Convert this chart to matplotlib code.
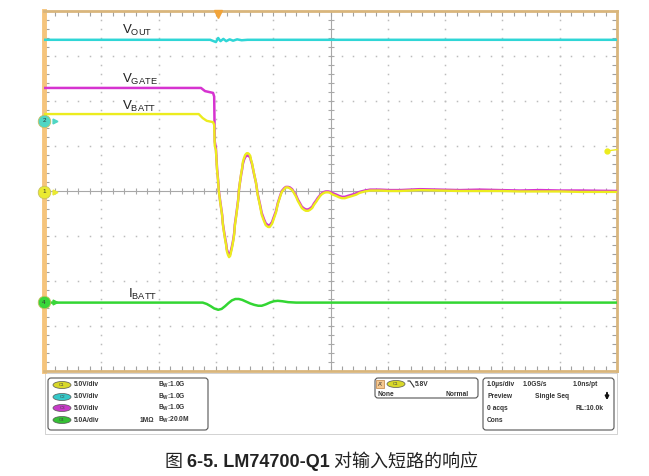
import numpy as np
import matplotlib
matplotlib.use('Agg')
import matplotlib.pyplot as plt
from matplotlib.patches import FancyBboxPatch, Rectangle, Ellipse

plt.rcParams['font.family'] = ['Liberation Sans', 'Noto Sans CJK SC', 'DejaVu Sans']
plt.rcParams['mathtext.fontset'] = 'custom'
plt.rcParams['mathtext.rm'] = 'Liberation Sans'
plt.rcParams['mathtext.bf'] = 'Liberation Sans:bold'

# trace data, time in divisions (1.0 us/div, 0..10), level in divisions (centre = 0)
t_vout = [0, 2.90, 2.96, 3.00, 3.04, 3.08, 3.13, 3.18, 3.24, 3.30, 3.37, 3.45, 3.55, 10]
v_vout = [3.36, 3.36, 3.33, 3.31, 3.40, 3.33, 3.38, 3.33, 3.37, 3.34, 3.37, 3.35, 3.36, 3.36]

# before the short
t_gate_pre = [0, 2.74, 2.81, 2.95, 2.97]
v_gate_pre = [2.29, 2.29, 2.22, 2.18, 2.10]
t_batt_pre = [0, 2.70, 2.77, 2.84, 2.95, 2.97]
v_batt_pre = [1.71, 1.71, 1.62, 1.56, 1.53, 1.47]

# ringing after the short (shared time base)
t_osc = [2.98, 3.00, 3.02, 3.04, 3.05, 3.07, 3.09, 3.11, 3.12, 3.14, 3.16, 3.18, 3.19, 3.21,
         3.23, 3.25, 3.26, 3.28, 3.30, 3.32, 3.33, 3.35, 3.37, 3.39, 3.40, 3.42, 3.44, 3.46,
         3.47, 3.49, 3.51, 3.53, 3.54, 3.56, 3.58, 3.60, 3.61, 3.63, 3.66, 3.70, 3.73, 3.77,
         3.80, 3.84, 3.87, 3.91, 3.94, 3.98, 4.01, 4.05, 4.08, 4.12, 4.15, 4.19, 4.22, 4.26,
         4.29, 4.33, 4.36, 4.40, 4.43, 4.47, 4.50, 4.54, 4.57, 4.61, 4.64, 4.68, 4.71, 4.75,
         4.78, 4.82, 4.85, 4.89, 4.92, 4.96, 4.99, 5.04, 5.10, 5.15, 5.20, 5.25, 5.30, 5.38,
         5.45, 5.51, 5.60, 5.69, 5.86, 6.04, 6.21, 6.56, 6.91, 7.26, 7.61, 7.96, 8.31, 8.66,
         9.01, 9.35, 10.0]
v_batt_osc = [1.00, 0.91, 0.47, 0.20, 0.00, -0.20, -0.38, -0.56, -0.73, -0.91, -1.07, -1.22, -1.33, -1.42,
              -1.47, -1.44, -1.38, -1.27, -1.13, -0.96, -0.78, -0.60, -0.40, -0.20, 0.00, 0.20, 0.38, 0.53,
              0.64, 0.73, 0.80, 0.83, 0.84, 0.84, 0.82, 0.78, 0.71, 0.62, 0.42, 0.18, -0.09, -0.33,
              -0.53, -0.67, -0.76, -0.80, -0.80, -0.73, -0.62, -0.47, -0.29, -0.13, -0.02, 0.04, 0.08, 0.08,
              0.06, 0.02, -0.04, -0.13, -0.22, -0.31, -0.38, -0.42, -0.44, -0.44, -0.42, -0.38, -0.31, -0.24,
              -0.18, -0.11, -0.07, -0.04, -0.03, -0.03, -0.04, -0.08, -0.11, -0.14, -0.16, -0.16, -0.14, -0.11,
              -0.08, -0.04, -0.01, 0.01, 0.01, 0.00, 0.00, 0.02, 0.01, 0.00, 0.00, 0.00, -0.01, -0.01,
              -0.01, -0.02, -0.02]
v_gate_osc = [1.10, 0.95, 0.50, 0.22, 0.02, -0.18, -0.36, -0.54, -0.71, -0.88, -1.04, -1.18, -1.29, -1.37,
              -1.42, -1.40, -1.34, -1.23, -1.10, -0.93, -0.75, -0.57, -0.38, -0.18, 0.01, 0.19, 0.36, 0.50,
              0.60, 0.69, 0.75, 0.78, 0.79, 0.79, 0.77, 0.74, 0.68, 0.60, 0.41, 0.18, -0.07, -0.30,
              -0.49, -0.63, -0.72, -0.76, -0.76, -0.69, -0.58, -0.44, -0.27, -0.11, 0.00, 0.06, 0.09, 0.09,
              0.08, 0.04, -0.02, -0.10, -0.19, -0.28, -0.35, -0.39, -0.41, -0.41, -0.39, -0.35, -0.28, -0.21,
              -0.15, -0.09, -0.05, -0.02, -0.01, -0.01, -0.02, -0.05, -0.08, -0.11, -0.13, -0.13, -0.11, -0.08,
              -0.05, -0.02, 0.01, 0.03, 0.03, 0.02, 0.02, 0.04, 0.03, 0.02, 0.03, 0.02, 0.01, 0.02,
              0.01, 0.01, 0.00]

t_ibatt = [0, 2.77, 2.84, 2.91, 2.97, 3.04, 3.10, 3.16, 3.22, 3.28, 3.34, 3.40, 3.46, 3.53,
           3.60, 3.67, 3.74, 3.80, 3.87, 3.94, 4.01, 4.08, 4.16, 4.26, 4.40, 10]
v_ibatt = [-2.48, -2.48, -2.51, -2.56, -2.61, -2.64, -2.62, -2.56, -2.49, -2.43, -2.40, -2.40, -2.42, -2.46,
           -2.50, -2.53, -2.55, -2.55, -2.52, -2.48, -2.45, -2.44, -2.45, -2.47, -2.48, -2.48]

C_CYAN = '#2fd6d6'
C_MAG = '#d633d0'
C_YEL = '#ecec1e'
C_GRN = '#33d633'
GRID = '#bcbcbc'

fig = plt.figure(figsize=(6.49, 4.76), dpi=100)

# overlay in pixel coords for info panels and caption
ov = fig.add_axes([0, 0, 1, 1])
ov.set_xlim(0, 649)
ov.set_ylim(476, 0)
ov.axis('off')

ax = fig.add_axes([44/649, 1 - 371/476, 573/649, 360/476])
ax.set_xlim(0, 10)
ax.set_ylim(-4, 4)
ax.set_xticks([])
ax.set_yticks([])
for s in ax.spines.values():
    s.set_color('#d9b67c')
    s.set_linewidth(2)
ax.spines['left'].set_color('#f5c47c')
ax.spines['left'].set_linewidth(3.5)

# dotted grid
for gx in range(1, 10):
    if gx == 5:
        continue
    yy = np.arange(-4, 4.01, 0.2)
    ax.plot(np.full_like(yy, gx), yy, ls='none', marker='s', ms=1.1, color=GRID, mew=0)
for gy in range(-3, 4):
    if gy == 0:
        continue
    xx = np.arange(0, 10.01, 0.2)
    ax.plot(xx, np.full_like(xx, gy), ls='none', marker='s', ms=1.1, color=GRID, mew=0)

# centre cross with ticks
ax.axhline(0, color='#a8a8a8', lw=0.8)
ax.axvline(5, color='#a8a8a8', lw=0.8)
xx = np.arange(0, 10.01, 0.2)
ax.plot(xx, np.zeros_like(xx), ls='none', marker='|', ms=5, mew=0.8, color='#a8a8a8')
yy = np.arange(-4, 4.01, 0.2)
ax.plot(np.full_like(yy, 5), yy, ls='none', marker='_', ms=5, mew=0.8, color='#a8a8a8')

# border ticks
ax.plot(xx, np.full_like(xx, 4), ls='none', marker='|', ms=7, mew=0.8, color='#a0a0a0')
ax.plot(xx, np.full_like(xx, -4), ls='none', marker='|', ms=7, mew=0.8, color='#a0a0a0')
ax.plot(np.zeros_like(yy), yy, ls='none', marker='_', ms=7, mew=0.8, color='#a0a0a0')
ax.plot(np.full_like(yy, 10), yy, ls='none', marker='_', ms=7, mew=0.8, color='#a0a0a0')

# traces
ax.plot(t_vout, v_vout, color=C_CYAN, lw=1.8, zorder=5)
ax.plot(t_gate_pre + t_osc, v_gate_pre + v_gate_osc, color=C_MAG, lw=1.8, zorder=5)
ax.plot(t_batt_pre + t_osc, v_batt_pre + v_batt_osc, color=C_YEL, lw=1.7, zorder=6)
ax.plot(t_ibatt, v_ibatt, color=C_GRN, lw=1.8, zorder=5)

# trace labels
lab = dict(fontsize=9.5, color='#222222', va='baseline', ha='left')
ax.text(1.36, 3.50, r'$\mathrm{V}_{\mathrm{OUT}}$', **lab)
ax.text(1.36, 2.40, r'$\mathrm{V}_{\mathrm{GATE}}$', **lab)
ax.text(1.36, 1.81, r'$\mathrm{V}_{\mathrm{BATT}}$', **lab)
ax.text(1.47, -2.38, r'$\mathrm{I}_{\mathrm{BATT}}$', **lab)

# channel ground markers
for yv, col, num in [(1.56, '#4fd6c4', '2'), (-0.02, '#eaea30', '1'), (-2.47, '#3ad63a', '4')]:
    ax.plot([0], [yv], marker='o', ms=9, color=col, mec='#c8c060', mew=0.6, clip_on=False, zorder=10)
    ax.plot([0.2], [yv], marker='>', ms=3.5, color=col, clip_on=False, zorder=10)
    ax.text(0, yv, num, fontsize=4.5, ha='center', va='center', color='#333333', zorder=11)

# trigger position / level markers
ax.plot([3.04], [3.93], marker='v', ms=6, color='#f2a43a', clip_on=False, zorder=10)
ax.plot([9.83], [0.89], marker='o', ms=3.5, color=C_YEL, clip_on=False, zorder=10)
ax.plot([9.83, 10], [0.89, 0.92], color=C_YEL, lw=1, clip_on=False, zorder=10)

# ---- info panels ----
ov.add_patch(Rectangle((45, 373), 572, 61, fill=False, ec='#c0c0c0', lw=0.5))
for (x0, y0, w, h) in [(48, 378, 160, 52), (375, 378, 103, 20), (483, 378, 131, 52)]:
    ov.add_patch(FancyBboxPatch((x0, y0), w, h, boxstyle='round,pad=0,rounding_size=3',
                                fill=False, ec='#555555', lw=0.8))

small = dict(fontsize=4.8, fontweight='bold', color='#333333', va='center', ha='left')
rows = [385, 397, 408, 420]
badges = ['#d8d82a', '#35c8c8', '#c83ac8', '#35c035']
scales = ['5.0V/div', '5.0V/div', '5.0V/div', '5.0A/div']
bws = ['1.0G', '1.0G', '1.0G', '20.0M']
for i, yv in enumerate(rows):
    ov.add_patch(Ellipse((62, yv), 18, 7, fc=badges[i], ec='#555555', lw=0.5))
    ov.text(62, yv, 'C%d' % (i + 1), fontsize=3.2, ha='center', va='center', color='#444444')
    ov.text(74, yv, scales[i], **small)
    ov.text(158, yv, r'$\mathbf{B}_{\mathbf{W}}$:' + bws[i], **small)
ov.text(140, rows[3], '1MΩ', **small)

ov.add_patch(Rectangle((376, 380), 8, 8, fc='#f5c890', ec='#c08040', lw=0.5))
ov.text(380, 384, "A'", fontsize=4, ha='center', va='center', color='#333333')
ov.add_patch(Ellipse((396, 384), 18, 7, fc='#d8d82a', ec='#555555', lw=0.5))
ov.text(396, 384, 'C1', fontsize=3.2, ha='center', va='center', color='#444444')
ov.plot([408, 410, 414], [381, 381, 387], color='#333333', lw=0.8)
ov.text(415, 384, '5.8V', **small)
ov.text(377, 394.5, 'None', **small)
ov.text(445, 394.5, 'Normal', **small)

ov.text(487, 385, '1.0µs/div', **small)
ov.text(523, 385, '1.0GS/s', **small)
ov.text(573, 385, '1.0ns/pt', **small)
ov.text(487, 397, 'Preview', **small)
ov.text(535, 397, 'Single Seq', **small)
ov.annotate('', xy=(607, 403), xytext=(607, 390),
            arrowprops=dict(arrowstyle='-|>', color='#111111', lw=1.4, mutation_scale=5))
ov.text(487, 409, '0 acqs', **small)
ov.text(575, 409, 'RL:10.0k', **small)
ov.text(487, 421, 'Cons', **small)

# ---- caption ----
cap = dict(fontsize=13, color='#222222', va='baseline')
t1 = ov.text(165, 467, '图 ', family=['Noto Sans CJK SC'], **cap)
t2 = ov.annotate('6-5. LM74700-Q1', xy=(1, 0), xycoords=t1, va='bottom', ha='left',
                 fontsize=13, fontweight='bold', color='#222222')
t3 = ov.annotate(' 对输入短路的响应', xy=(1, 0), xycoords=t2, va='bottom', ha='left',
                 fontsize=13, color='#222222', family=['Noto Sans CJK SC'])

fig.savefig('out.png', dpi=100)
